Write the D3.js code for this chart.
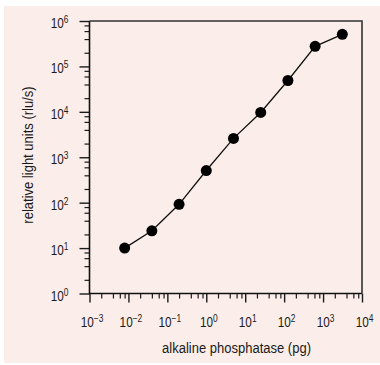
<!DOCTYPE html>
<html>
<head>
<meta charset="utf-8">
<script src="https://cdn.jsdelivr.net/npm/d3@7"></script>
<style>
  body { margin: 0; background: #fff; }
  svg { display: block; }
  text { font-family: "Liberation Sans", Arial, sans-serif; fill: #1a1a1a; }
</style>
</head>
<body>
<svg id="chart"></svg>
<script>
// dilution series, 5-fold steps
const amountPg = [0.008, 0.04, 0.2, 1, 5, 25, 125, 625, 3125];
const lightUnits = [10, 24, 92, 510, 2600, 9700, 49000, 277000, 510000];

const xExponents = [-3, -2, -1, 0, 1, 2, 3, 4];
const yExponents = [0, 1, 2, 3, 4, 5, 6];
const minorSteps = [2, 4, 6, 8];

const xTitle = "alkaline phosphatase (pg)";
const yTitle = "relative light units (rlu/s)";

var W = 380, H = 365;
var pLeft = 89.5, pRight = 362, pTop = 21, pBottom = 293.5;
var squeeze = 0.84; // condensed look

var svg = d3.select("#chart")
  .attr("width", W)
  .attr("height", H);

svg.append("rect")
  .attr("x", 4).attr("y", 6)
  .attr("width", W - 4).attr("height", H - 8)
  .attr("fill", "#fbeeea");

var x = d3.scaleLog()
  .domain([Math.pow(10, xExponents[0]), Math.pow(10, xExponents[xExponents.length - 1])])
  .range([pLeft, pRight]);

var y = d3.scaleLog()
  .domain([Math.pow(10, yExponents[0]), Math.pow(10, yExponents[yExponents.length - 1])])
  .range([pBottom, pTop]);

var xMajor = xExponents.map(e => Math.pow(10, e));
var yMajor = yExponents.map(e => Math.pow(10, e));
var xMinor = [], yMinor = [];
xExponents.slice(0, -1).forEach(e => minorSteps.forEach(m => xMinor.push(m * Math.pow(10, e))));
yExponents.slice(0, -1).forEach(e => minorSteps.forEach(m => yMinor.push(m * Math.pow(10, e))));

function sup(sel, exps) {
  sel.selectAll("text").each(function(d, i) {
    var t = d3.select(this).text("");
    var e = exps[i];
    t.append("tspan").text("10");
    t.append("tspan")
      .attr("dy", "-0.5em")
      .attr("font-size", "10px")
      .text(e < 0 ? "\u2212" + (-e) : e);
  });
}

// minor ticks
svg.append("g")
  .attr("transform", "translate(0," + pBottom + ")")
  .call(d3.axisBottom(x).tickValues(xMinor).tickSize(5).tickFormat(""))
  .call(g => g.select(".domain").remove())
  .call(g => g.selectAll("line").attr("stroke", "#1a1a1a").attr("stroke-width", 1.2));

svg.append("g")
  .attr("transform", "translate(" + pLeft + ",0)")
  .call(d3.axisLeft(y).tickValues(yMinor).tickSize(5).tickFormat(""))
  .call(g => g.select(".domain").remove())
  .call(g => g.selectAll("line").attr("stroke", "#1a1a1a").attr("stroke-width", 1.2));

// major ticks + labels
svg.append("g")
  .attr("transform", "translate(0," + pBottom + ")")
  .call(d3.axisBottom(x).tickValues(xMajor).tickSize(9).tickPadding(13).tickFormat(""))
  .call(g => g.select(".domain").remove())
  .call(g => g.selectAll("line").attr("stroke", "#1a1a1a").attr("stroke-width", 1.4))
  .call(g => g.selectAll("text")
    .attr("font-size", "14px").attr("fill", "#1a1a1a")
    .attr("y", 0).attr("dy", "0")
    .attr("transform", "translate(2,33) scale(" + squeeze + ",1)"))
  .call(g => sup(g, xExponents));

svg.append("g")
  .attr("transform", "translate(" + pLeft + ",0)")
  .call(d3.axisLeft(y).tickValues(yMajor).tickSize(10).tickPadding(11).tickFormat(""))
  .call(g => g.select(".domain").remove())
  .call(g => g.selectAll("line").attr("stroke", "#1a1a1a").attr("stroke-width", 1.4))
  .call(g => g.selectAll("text")
    .attr("font-size", "14px").attr("fill", "#1a1a1a")
    .attr("x", 0).attr("dy", "0")
    .attr("transform", "translate(-21,6.5) scale(" + squeeze + ",1)"))
  .call(g => sup(g, yExponents));

// frame
svg.append("path")
  .attr("d", "M" + pLeft + "," + pTop + "V" + pBottom + "H" + pRight)
  .attr("fill", "none").attr("stroke", "#111").attr("stroke-width", 1.6);
svg.append("path")
  .attr("d", "M" + pLeft + "," + pTop + "H" + pRight + "V" + pBottom)
  .attr("fill", "none").attr("stroke", "#333").attr("stroke-width", 1.6);

var pts = amountPg.map((v, i) => [v, lightUnits[i]]);

svg.append("path")
  .datum(pts)
  .attr("fill", "none")
  .attr("stroke", "#111")
  .attr("stroke-width", 1.3)
  .attr("d", d3.line().x(d => x(d[0])).y(d => y(d[1])));

svg.selectAll("circle.pt")
  .data(pts)
  .enter().append("circle")
  .attr("class", "pt")
  .attr("cx", d => x(d[0]))
  .attr("cy", d => y(d[1]))
  .attr("r", 5.5)
  .attr("fill", "#000");

svg.append("text")
  .attr("transform", "translate(236.5,352.5) scale(" + squeeze + ",1)")
  .attr("text-anchor", "middle")
  .attr("font-size", "15.5px")
  .text(xTitle);

svg.append("text")
  .attr("transform", "translate(32.5,155) rotate(-90) scale(" + squeeze + ",1)")
  .attr("text-anchor", "middle")
  .attr("font-size", "15.5px")
  .text(yTitle);
</script>
</body>
</html>
